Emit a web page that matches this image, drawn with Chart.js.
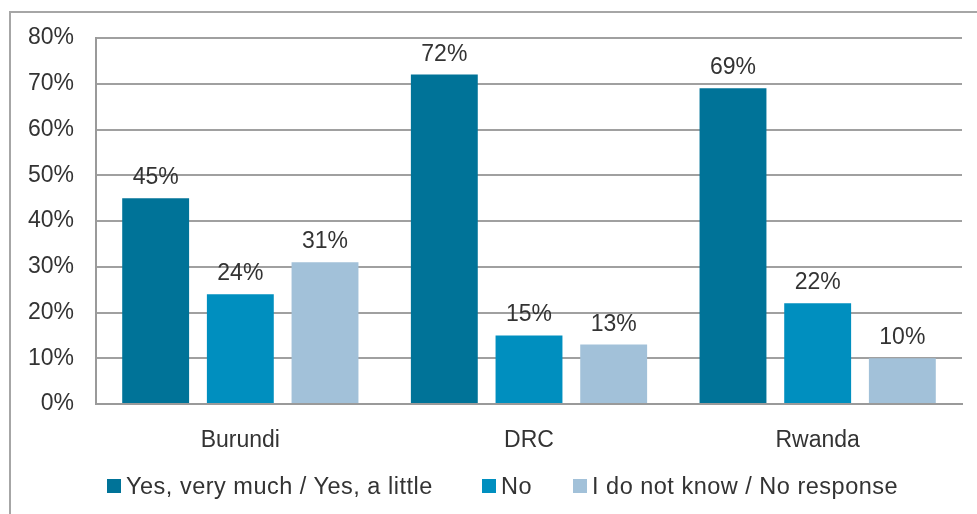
<!DOCTYPE html>
<html>
<head>
<meta charset="utf-8">
<script src="https://cdn.jsdelivr.net/npm/chart.js@4/dist/chart.umd.min.js"></script>
<style>
  html, body { margin: 0; padding: 0; background: #fff; }
  #wrap { position: relative; width: 977px; height: 514px; overflow: hidden; }
  #frame { position: absolute; left: 9px; top: 11px; width: 1000px; height: 600px;
           border-left: 2px solid #a6a6a6; border-top: 2px solid #a6a6a6; box-sizing: border-box; }
  canvas { position: absolute; left: 0; top: 0; }
  #legend { position: absolute; left: 0; top: 471px; width: 977px; height: 30px;
            font-family: "Liberation Sans", Arial, sans-serif; font-size: 23.5px; letter-spacing: 0.5px;
            color: #333; white-space: nowrap; }
  .item { position: absolute; top: 0; display: flex; align-items: center; height: 30px; }
  .sw { width: 14px; height: 14px; margin-right: 5px; display: inline-block; }
</style>
</head>
<body>
<div id="wrap">
  <div id="frame"></div>
  <canvas id="c" width="977" height="514"></canvas>
  <div id="legend"></div>
</div>
<script>
const categories = ["Burundi", "DRC", "Rwanda"];
const seriesNames = ["Yes, very much / Yes, a little", "No", "I do not know / No response"];
const yesValues = [45, 72, 69];
const noValues = [24, 15, 22];
const dontKnowValues = [31, 13, 10];
const seriesColors = ["#007398", "#008fbf", "#a2c1d9"];
const yTickMax = 80;
const yTickStep = 10;

const seriesValues = [yesValues, noValues, dontKnowValues];
const FONT = "'Liberation Sans', Arial, sans-serif";

const dataLabels = {
  id: 'dataLabels',
  afterDatasetsDraw(chart) {
    const ctx = chart.ctx;
    ctx.save();
    ctx.font = "23px " + FONT;
    ctx.fillStyle = "#333";
    ctx.textAlign = "center";
    ctx.textBaseline = "alphabetic";
    chart.data.datasets.forEach((ds, i) => {
      chart.getDatasetMeta(i).data.forEach((el, j) => {
        ctx.fillText(ds.data[j] + "%", el.x, el.y - 14);
      });
    });
    ctx.restore();
  }
};

new Chart(document.getElementById('c'), {
  type: 'bar',
  data: {
    labels: categories,
    datasets: seriesNames.map((n, i) => ({
      label: n,
      data: seriesValues[i],
      backgroundColor: seriesColors[i],
      borderWidth: 0,
      categoryPercentage: 0.88,
      barPercentage: 0.79
    }))
  },
  options: {
    responsive: false,
    animation: false,
    devicePixelRatio: 1,
    layout: { padding: { top: 38, right: 15, bottom: 0, left: 0 } },
    plugins: { legend: { display: false }, tooltip: { enabled: false } },
    scales: {
      x: {
        grid: { display: false },
        border: { display: true, color: "#9a9a9a", width: 2 },
        ticks: { color: "#333", font: { family: FONT, size: 23 }, padding: 15 },
        afterFit(s) { s.height = 110; }
      },
      y: {
        min: 0, max: yTickMax,
        ticks: { stepSize: yTickStep, color: "#333", font: { family: FONT, size: 23 }, padding: 22,
                 callback: v => v + "%" },
        grid: { color: "#a0a0a0", lineWidth: 2, drawTicks: false },
        border: { display: true, color: "#9a9a9a", width: 2 },
        afterFit(s) { s.width = 96; }
      }
    }
  },
  plugins: [dataLabels]
});

const legendX = [107, 482, 573];
const lg = document.getElementById('legend');
seriesNames.forEach((n, i) => {
  const it = document.createElement('span');
  it.className = 'item';
  it.style.left = legendX[i] + 'px';
  const sw = document.createElement('span');
  sw.className = 'sw';
  sw.style.background = seriesColors[i];
  const tx = document.createElement('span');
  tx.textContent = n;
  it.appendChild(sw); it.appendChild(tx);
  lg.appendChild(it);
});
</script>
</body>
</html>
